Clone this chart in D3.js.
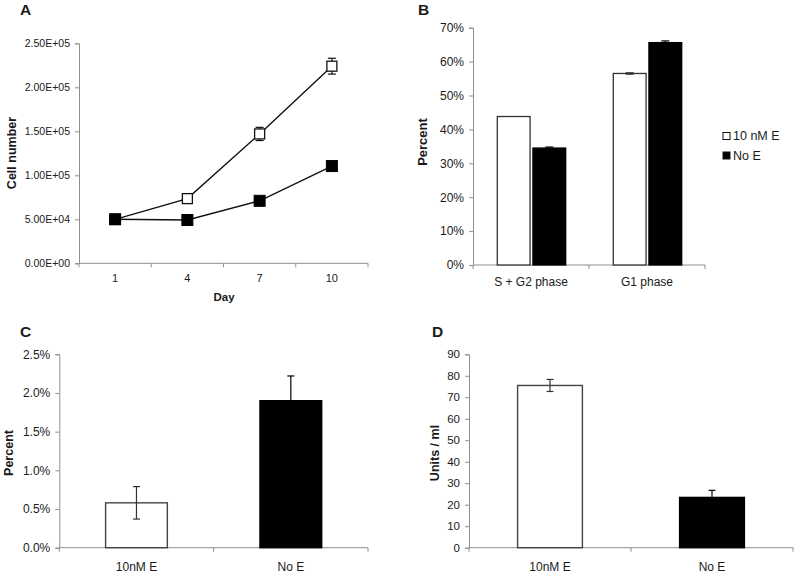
<!DOCTYPE html>
<html>
<head>
<meta charset="utf-8">
<script src="https://cdn.jsdelivr.net/npm/d3@7"></script>
<style>
  html, body { margin: 0; padding: 0; background: #fff; }
  svg { display: block; }
  text { font-family: "Liberation Sans", Arial, sans-serif; fill: #1a1a1a; }
</style>
</head>
<body>
<svg id="chart" width="800" height="580"></svg>
<script>
// ---------- DATA ----------
// Panel A: cell growth
const daysA = ["1", "4", "7", "10"];
const withE_A = [50000, 73500, 147000, 224000];
const withE_A_err = [0, 2000, 7500, 9000];
const noE_A = [50000, 49200, 71000, 110500];
const noE_A_err = [0, 1000, 1500, 2000];
const yTicksA = [0, 50000, 100000, 150000, 200000, 250000];
const yTickLabelsA = ["0.00E+00", "5.00E+04", "1.00E+05", "1.50E+05", "2.00E+05", "2.50E+05"];

// Panel B: cell cycle
const phasesB = ["S + G2 phase", "G1 phase"];
const seriesB = ["10 nM E", "No E"];
const withE_B = [43.8, 56.5];
const withE_B_err = [0, 0.2];
const noE_B = [34.5, 65.6];
const noE_B_err = [0.3, 0.5];
const yTicksB = [0, 10, 20, 30, 40, 50, 60, 70];

// Panel C: percent
const groupsC = ["10nM E", "No E"];
const valuesC = [0.58, 1.90];
const errC = [0.21, 0.32];
const yTicksC = [0, 0.5, 1.0, 1.5, 2.0, 2.5];

// Panel D: units / ml
const groupsD = ["10nM E", "No E"];
const valuesD = [75.5, 23.4];
const errD = [2.8, 3.3];
const yTicksD = [0, 10, 20, 30, 40, 50, 60, 70, 80, 90];

const fills = ["#ffffff", "#000000"];
const errColors = ["#333333", "#000000"];
const axisColor = "#8f8f8f";

const svg = d3.select("#chart");

function styleAxis(g) {
  g.selectAll("path.domain").attr("stroke", axisColor).attr("stroke-width", 1);
  g.selectAll(".tick line").attr("stroke", axisColor);
  g.selectAll(".tick text").style("font-family", '"Liberation Sans", Arial, sans-serif').attr("fill", "#1a1a1a");
}

function yAxis(y, x0, ticks, fmt, fontSize) {
  const g = svg.append("g").attr("transform", `translate(${x0},0)`)
    .call(d3.axisLeft(y).tickValues(ticks).tickFormat(fmt).tickSize(4).tickPadding(5));
  g.selectAll(".tick text").style("font-size", fontSize + "px");
  styleAxis(g);
  return g;
}

function catXAxis(x, y0, labelY, fontSize) {
  const r = x.range();
  const dom = x.domain();
  svg.append("line").attr("x1", r[0]).attr("x2", r[1]).attr("y1", y0).attr("y2", y0)
    .attr("stroke", axisColor);
  // ticks at category boundaries
  const edges = dom.map(d => x(d)).concat([r[1]]);
  svg.append("g").selectAll("line").data(edges).join("line")
    .attr("x1", d => d).attr("x2", d => d).attr("y1", y0).attr("y2", y0 + 4)
    .attr("stroke", axisColor);
  svg.append("g").selectAll("text").data(dom).join("text")
    .attr("x", d => x(d) + x.bandwidth() / 2).attr("y", labelY)
    .attr("text-anchor", "middle").style("font-size", fontSize + "px").text(d => d);
}

function titleY(text, x, yc, size) {
  svg.append("text").attr("transform", `translate(${x},${yc}) rotate(-90)`)
    .attr("text-anchor", "middle").style("font-size", size + "px").style("font-weight", "bold")
    .text(text);
}

function panelLetter(t, x, y) {
  svg.append("text").attr("x", x).attr("y", y).style("font-size", "15.5px")
    .style("font-weight", "bold").text(t);
}

function errBars(data, xf, y, cap, colorF) {
  const g = svg.append("g").attr("stroke-width", 1.2);
  data.forEach(d => {
    if (!d.e) return;
    const c = colorF(d);
    const cx = xf(d), yt = y(d.v + d.e), yb = y(d.v - d.e);
    g.append("line").attr("stroke", c).attr("x1", cx).attr("x2", cx).attr("y1", yt).attr("y2", yb);
    g.append("line").attr("stroke", c).attr("x1", cx - cap).attr("x2", cx + cap).attr("y1", yt).attr("y2", yt);
    g.append("line").attr("stroke", c).attr("x1", cx - cap).attr("x2", cx + cap).attr("y1", yb).attr("y2", yb);
  });
}

// ---------- PANEL A ----------
{
  const x = d3.scaleBand().domain(daysA).range([79, 368]);
  const y = d3.scaleLinear().domain([0, 250000]).range([263.3, 43.3]);
  yAxis(y, 79, yTicksA, (d, i) => yTickLabelsA[i], 10.5);
  catXAxis(x, 263.3, 282, 11);
  titleY("Cell number", 16, 153, 12.5);
  svg.append("text").attr("x", 224).attr("y", 301).attr("text-anchor", "middle")
    .style("font-size", "11.5px").style("font-weight", "bold").text("Day");
  panelLetter("A", 20, 15);

  const cx = d => x(d) + x.bandwidth() / 2;
  const line = d3.line().x(d => cx(d.day)).y(d => y(d.v));
  const sE = daysA.map((d, i) => ({ day: d, v: withE_A[i], e: withE_A_err[i] }));
  const sN = daysA.map((d, i) => ({ day: d, v: noE_A[i], e: noE_A_err[i] }));
  [sE, sN].forEach(s => svg.append("path").datum(s).attr("d", line)
    .attr("fill", "none").attr("stroke", "#111").attr("stroke-width", 1.4));
  errBars(sE, d => cx(d.day), y, 4, () => "#111");
  errBars(sN, d => cx(d.day), y, 4, () => "#000");
  svg.append("g").selectAll("rect").data(sE).join("rect")
    .attr("x", d => cx(d.day) - 5).attr("y", d => y(d.v) - 5)
    .attr("width", 10).attr("height", 10)
    .attr("fill", "#fff").attr("stroke", "#111").attr("stroke-width", 1.3);
  svg.append("g").selectAll("rect").data(sN).join("rect")
    .attr("x", d => cx(d.day) - 5.5).attr("y", d => y(d.v) - 5.5)
    .attr("width", 11).attr("height", 11)
    .attr("fill", "#000").attr("stroke", "#000");
}

// ---------- PANEL B ----------
{
  const x0 = d3.scaleBand().domain(phasesB).range([473, 705]);
  const x1 = d3.scaleBand().domain(seriesB).range([24.3, 92.7]).paddingInner(0.08);
  const y = d3.scaleLinear().domain([0, 70]).range([265, 27.7]);
  yAxis(y, 473, yTicksB, d => d + "%", 12);
  catXAxis(x0, 265, 286, 12);
  titleY("Percent", 427, 142, 13);
  panelLetter("B", 418, 15);

  const vals = [withE_B, noE_B], errs = [withE_B_err, noE_B_err];
  const data = [];
  phasesB.forEach((p, i) => seriesB.forEach((s, j) =>
    data.push({ p, s, j, v: vals[j][i], e: errs[j][i] })));
  svg.append("g").selectAll("rect").data(data).join("rect")
    .attr("x", d => x0(d.p) + x1(d.s)).attr("y", d => y(d.v))
    .attr("width", x1.bandwidth()).attr("height", d => y(0) - y(d.v))
    .attr("fill", d => fills[d.j]).attr("stroke", d => d.j ? "#000" : "#333").attr("stroke-width", 1.3);
  errBars(data, d => x0(d.p) + x1(d.s) + x1.bandwidth() / 2, y, 4, d => errColors[d.j]);

  // legend
  const lg = svg.append("g");
  seriesB.forEach((s, j) => {
    const yy = 136 + j * 19.5;
    lg.append("rect").attr("x", 723).attr("y", yy - 3.5).attr("width", 7).attr("height", 7)
      .attr("fill", fills[j]).attr("stroke", "#111").attr("stroke-width", 1);
    lg.append("text").attr("x", 733).attr("y", yy + 4).style("font-size", "12.5px").text(s);
  });
}

// ---------- PANEL C ----------
{
  const x = d3.scaleBand().domain(groupsC).range([59.3, 368]).paddingInner(0.6).paddingOuter(0.3);
  const y = d3.scaleLinear().domain([0, 2.5]).range([547.7, 354.3]);
  yAxis(y, 59.3, yTicksC, d => d.toFixed(1) + "%", 12);
  const xr = d3.scaleBand().domain(groupsC).range([59.3, 368]);
  catXAxis(xr, 547.7, 571, 12);
  titleY("Percent", 13, 453, 12.5);
  panelLetter("C", 20, 337);
  const data = groupsC.map((g, i) => ({ g, i, v: valuesC[i], e: errC[i] }));
  svg.append("g").selectAll("rect").data(data).join("rect")
    .attr("x", d => x(d.g)).attr("y", d => y(d.v))
    .attr("width", x.bandwidth()).attr("height", d => y(0) - y(d.v))
    .attr("fill", d => fills[d.i]).attr("stroke", d => d.i ? "#000" : "#444").attr("stroke-width", 1.4);
  errBars(data, d => x(d.g) + x.bandwidth() / 2, y, 3.5, d => errColors[d.i]);
}

// ---------- PANEL D ----------
{
  const x = d3.scaleBand().domain(groupsD).range([469, 793]).paddingInner(0.6).paddingOuter(0.3);
  const y = d3.scaleLinear().domain([0, 90]).range([547.7, 354.3]);
  yAxis(y, 469, yTicksD, d => d, 11.5);
  const xr = d3.scaleBand().domain(groupsD).range([469, 793]);
  catXAxis(xr, 547.7, 571, 12);
  titleY("Units / ml", 439, 453, 12.5);
  panelLetter("D", 432, 337);
  const data = groupsD.map((g, i) => ({ g, i, v: valuesD[i], e: errD[i] }));
  svg.append("g").selectAll("rect").data(data).join("rect")
    .attr("x", d => x(d.g)).attr("y", d => y(d.v))
    .attr("width", x.bandwidth()).attr("height", d => y(0) - y(d.v))
    .attr("fill", d => fills[d.i]).attr("stroke", d => d.i ? "#000" : "#444").attr("stroke-width", 1.4);
  errBars(data, d => x(d.g) + x.bandwidth() / 2, y, 3.5, d => errColors[d.i]);
}
</script>
</body>
</html>
